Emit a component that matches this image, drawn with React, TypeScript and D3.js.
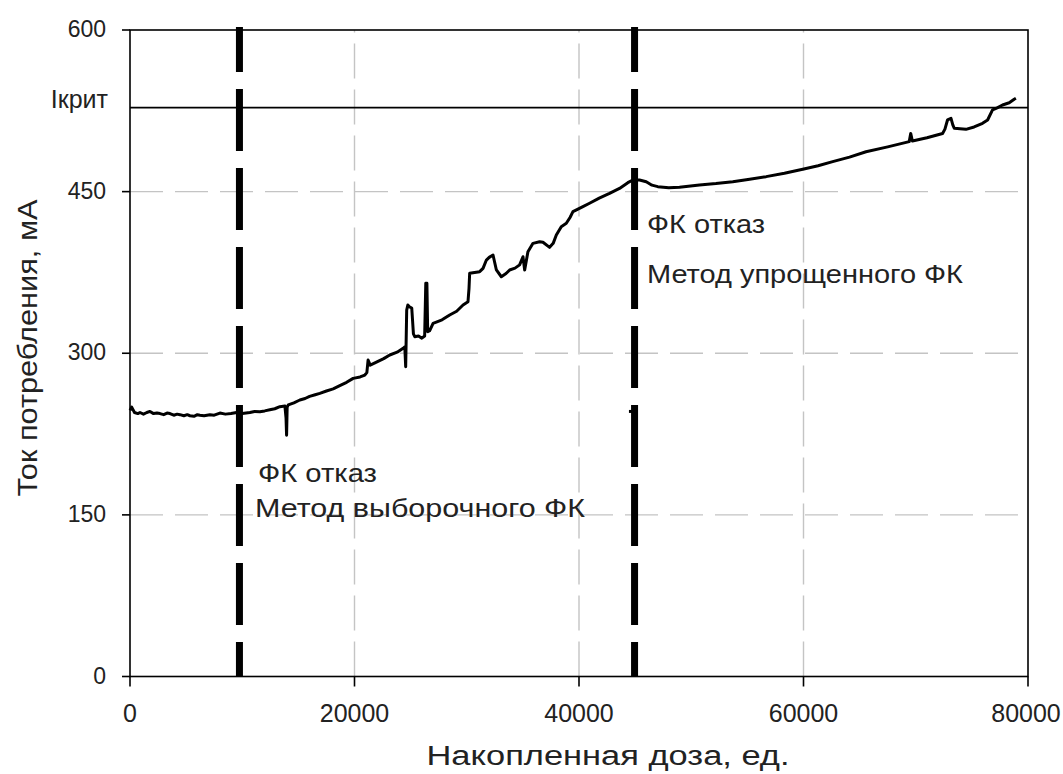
import React from "react";
import * as d3 from "d3";

const W = 1063;
const H = 774;

const dose = [
  0, 150, 400, 700, 890, 1200, 1500, 1780, 2100, 2400, 2670, 3000, 3300, 3560, 3900, 4200, 4450, 4800, 5100, 5340,
  5700, 6000, 6230, 6600, 7120, 7500, 8010, 8500, 9000, 9500, 10000, 10680, 11100, 11570, 12000, 12460, 12900, 13350,
  13800, 13900, 13950, 14000, 14100, 14600, 15130, 15600, 16000, 16500, 16910, 17500, 18100, 18690, 19300, 19880,
  20500, 20920, 21100, 21210, 21400, 22000, 22600, 23140, 23800, 24330, 24480, 24560, 24650, 24750, 24900, 25100,
  25250, 25370, 25700, 26000, 26250, 26350, 26450, 26520, 26700, 27000, 27800, 28480, 29100, 29670, 30110, 30200,
  30260, 30700, 31150, 31450, 31750, 32000, 32340, 32640, 33080, 33500, 33820, 34300, 34710, 35010, 35160, 35450,
  35900, 36490, 36790, 37380, 37700, 37980, 38420, 38870, 39200, 39460, 40350, 40940, 41800, 42720, 43610, 44350,
  44800, 45390, 45990, 46500, 47020, 48000, 48950, 50730, 52200, 53700, 55200, 56670, 58300, 59930, 61300, 62600,
  64100, 65570, 67500, 69420, 69550, 69700, 71000, 72390, 72600, 72830, 73140, 73300, 73430, 74470, 75200, 75950,
  76400, 76840, 77300, 77730, 78330, 78770, 78920,
];
const current = [
  247, 250, 245, 244, 245, 243.5, 245, 246, 244, 244.5, 244, 243, 244.5, 244, 242.5, 243.5, 243, 242, 243, 242,
  241.5, 243, 242.5, 242, 243, 242.5, 244.5, 243.5, 244, 245, 244, 245, 246, 245.8, 246.5, 247.5, 248.5, 250.4,
  251, 240, 224, 250, 252, 254, 256.6, 258, 260, 261.5, 262.8, 265, 267, 270, 273, 276.7,
  278, 279.8, 282, 293.7, 289, 292, 295, 298.4, 301, 304.6, 306, 287.5, 340, 344.8, 343, 342,
  318, 315.4, 316, 314, 316, 365, 365, 320, 321, 327.8, 331, 335.5, 339, 344.8, 347.8, 360,
  374.2, 375, 375.7, 378.8, 386.5, 389, 391.2, 377.3, 371, 374, 377.3, 379, 382, 389.6, 377.3, 394.2,
  402, 403.5, 403, 398.3, 402, 409.7, 417.5, 420.6, 426, 431.4, 436, 439.2, 444, 448.4, 453, 458.3,
  460.8, 460.8, 459.2, 456, 454.6, 453.5, 454, 456.2, 457.5, 459.2, 461.5, 463.9, 467, 470.7, 474, 477.8,
  482, 487, 491.5, 496.4, 504, 497, 500, 504, 508, 516.5, 518, 512, 508.8, 507.8, 510, 513.4,
  516.5, 525.8, 528, 530.4, 532.5, 535.7, 536.6,
];

const strayDose = [44450, 44750];
const strayCurrent = [246, 246];

const xTicks = [0, 20000, 40000, 60000, 80000];
const yTicks = [0, 150, 300, 450, 600];
const gridX = [20000, 40000, 60000];
const gridY = [150, 300, 450];
const failureDoses = [9750, 44950];
const iCrit = 528;

const xTitle = "Накопленная доза, ед.";
const yTitle = "Ток потребления, мА";
const critLabel = "Ікрит";
const annLeft = ["ФК отказ", "Метод выборочного ФК"];
const annRight = ["ФК отказ", "Метод упрощенного ФК"];

const FONT = "'Liberation Sans', Arial, sans-serif";

export default function App() {
  const left = 130;
  const right = 1028;
  const top = 30;
  const bottom = 676.5;
  const x = d3.scaleLinear().domain([0, 80000]).range([left, right]);
  const y = d3.scaleLinear().domain([0, 600]).range([bottom, top]);

  const pts: [number, number][] = dose.map((d, i) => [d, current[i]]);
  const stray: [number, number][] = strayDose.map((d, i) => [d, strayCurrent[i]]);
  const line = d3
    .line<[number, number]>()
    .x((p) => x(p[0]))
    .y((p) => y(p[1]));

  return (
    <svg
      width={W}
      height={H}
      style={{ position: "absolute", left: 0, top: 0, display: "block", background: "#fff" }}
    >
      <rect x={0} y={0} width={W} height={H} fill="#fff" />
      {gridY.map((v) => (
        <line key={"gy" + v} x1={left} x2={right} y1={y(v)} y2={y(v)} stroke="#c4c4c4" strokeWidth={1.4} strokeDasharray="33 12" />
      ))}
      {gridX.map((v) => (
        <line key={"gx" + v} x1={x(v)} x2={x(v)} y1={bottom} y2={top} stroke="#c4c4c4" strokeWidth={1.4} strokeDasharray="35 11" />
      ))}
      <rect x={left} y={top} width={right - left} height={bottom - top} fill="none" stroke="#000" strokeWidth={1.6} />
      {yTicks.map((v) => (
        <line key={"ty" + v} x1={left - 8} x2={left} y1={y(v)} y2={y(v)} stroke="#000" strokeWidth={1.6} />
      ))}
      {xTicks.map((v) => (
        <line key={"tx" + v} x1={x(v)} x2={x(v)} y1={bottom} y2={bottom + 10} stroke="#000" strokeWidth={1.6} />
      ))}
      {yTicks.map((v) => (
        <text key={"ly" + v} x={106} y={y(v) + 7} textAnchor="end" fontFamily={FONT} fontSize={23} fill="#222">
          {v}
        </text>
      ))}
      {xTicks.map((v) => (
        <text key={"lx" + v} x={v === 80000 ? x(v) - 2 : x(v)} y={722} textAnchor="middle" fontFamily={FONT} fontSize={25} fill="#222">
          {v}
        </text>
      ))}
      <line x1={left} x2={right} y1={y(iCrit)} y2={y(iCrit)} stroke="#000" strokeWidth={1.6} />
      <text x={108} y={108} textAnchor="end" fontFamily={FONT} fontSize={25} fill="#222">
        {critLabel}
      </text>
      <path d={line(pts) || ""} fill="none" stroke="#000" strokeWidth={3} strokeLinejoin="round" />
      <path d={line(stray) || ""} fill="none" stroke="#000" strokeWidth={3} />
      {failureDoses.map((v) => (
        <line
          key={"f" + v}
          x1={x(v)}
          x2={x(v)}
          y1={top - 3}
          y2={bottom}
          stroke="#000"
          strokeWidth={7}
          strokeDasharray="62 17"
          strokeDashoffset={17}
        />
      ))}
      <text x={258} y={482} fontFamily={FONT} fontSize={26} fill="#222" textLength={119} lengthAdjust="spacingAndGlyphs">
        {annLeft[0]}
      </text>
      <text x={255} y={517} fontFamily={FONT} fontSize={26} fill="#222" textLength={330} lengthAdjust="spacingAndGlyphs">
        {annLeft[1]}
      </text>
      <text x={647} y={233} fontFamily={FONT} fontSize={26} fill="#222" textLength={118} lengthAdjust="spacingAndGlyphs">
        {annRight[0]}
      </text>
      <text x={647} y={283} fontFamily={FONT} fontSize={26} fill="#222" textLength={316} lengthAdjust="spacingAndGlyphs">
        {annRight[1]}
      </text>
      <text
        x={608}
        y={765}
        textAnchor="middle"
        fontFamily={FONT}
        fontSize={27}
        fill="#222"
        textLength={363}
        lengthAdjust="spacingAndGlyphs"
      >
        {xTitle}
      </text>
      <text
        transform={`translate(37,348) rotate(-90)`}
        textAnchor="middle"
        fontFamily={FONT}
        fontSize={27}
        fill="#222"
        textLength={297}
        lengthAdjust="spacingAndGlyphs"
      >
        {yTitle}
      </text>
    </svg>
  );
}
